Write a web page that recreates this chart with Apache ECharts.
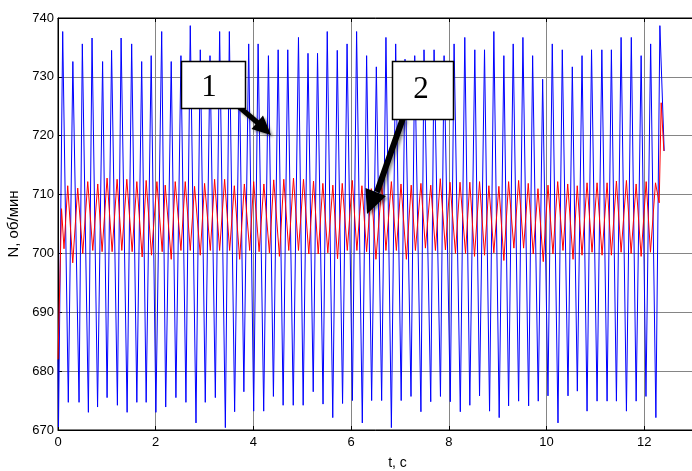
<!DOCTYPE html>
<html>
<head>
<meta charset="utf-8">
<script src="https://cdn.jsdelivr.net/npm/echarts@6/dist/echarts.min.js"></script>
<style>
  html, body { margin: 0; padding: 0; background: #fff; overflow: hidden; }
  #chart { width: 692px; height: 471px; }
</style>
</head>
<body>
<div id="chart"></div>
<script>
// Rotational speed N (об/мин) versus time t (с): curve 1 (blue) and curve 2 (red).
var blueT = [0, 0.01, 0.096, 0.211, 0.304, 0.431, 0.498, 0.622, 0.697, 0.810, 0.913, 1.005, 1.097, 1.216, 1.292, 1.415,
  1.508, 1.614, 1.713, 1.805, 1.908, 2.004, 2.123, 2.205, 2.318, 2.414, 2.517, 2.619, 2.708, 2.825, 2.913, 3.015,
  3.112, 3.221, 3.309, 3.426, 3.508, 3.616, 3.713, 3.805, 3.904, 4.006, 4.097, 4.211, 4.308, 4.410, 4.507, 4.609,
  4.704, 4.816, 4.923, 5.019, 5.118, 5.225, 5.313, 5.426, 5.512, 5.625, 5.717, 5.826, 5.918, 6.027, 6.113, 6.230,
  6.318, 6.421, 6.517, 6.626, 6.714, 6.825, 6.913, 7.026, 7.104, 7.227, 7.303, 7.430, 7.493, 7.631, 7.699, 7.830,
  7.904, 8.031, 8.109, 8.236, 8.328, 8.431, 8.533, 8.630, 8.732, 8.835, 8.923, 9.032, 9.128, 9.225, 9.319, 9.430,
  9.518, 9.635, 9.717, 9.832, 9.922, 10.031, 10.119, 10.236, 10.324, 10.441, 10.529, 10.632, 10.728, 10.831, 10.923,
  11.036, 11.134, 11.241, 11.329, 11.432, 11.528, 11.637, 11.737, 11.836, 11.938, 12.037, 12.133, 12.240, 12.322, 12.410];
var blueN = [682, 670.5, 737.7, 674.7, 732.6, 674.7, 735.6, 673.0, 736.6, 673.9, 732.6, 675.5, 734.5, 674.2, 736.6, 673.0,
  735.6, 674.7, 732.6, 674.7, 733.6, 673.0, 737.7, 673.9, 732.6, 675.5, 733.6, 674.7, 738.7, 671.2, 734.6, 674.7,
  733.6, 675.5, 737.7, 670.4, 737.7, 673.1, 731.5, 676.5, 735.6, 673.2, 735.6, 673.2, 733.6, 675.7, 734.6, 674.2,
  734.6, 674.2, 736.7, 674.2, 734.0, 676.5, 734.0, 674.4, 737.7, 672.1, 734.5, 674.5, 735.6, 675.0, 737.7, 671.2,
  733.6, 675.0, 731.7, 675.0, 736.7, 670.4, 735.6, 675.0, 733.0, 675.7, 733.6, 673.1, 734.6, 674.8, 734.6, 675.7,
  733.6, 674.8, 735.6, 673.1, 736.7, 674.2, 734.6, 675.8, 734.6, 673.2, 737.7, 672.1, 733.6, 674.1, 735.6, 674.9,
  736.7, 674.1, 733.6, 674.9, 729.6, 675.8, 735.6, 671.2, 734.6, 675.8, 731.7, 676.6, 733.6, 673.2, 734.6,
  674.9, 734.6, 674.9, 734.6, 674.9, 736.7, 673.2, 736.7, 674.9, 733.6, 675.7, 735.6, 672.1, 738.7, 717.4];

var redT = [0, 0.072, 0.123, 0.199, 0.302, 0.404, 0.507, 0.609, 0.712, 0.814, 0.903, 1.005, 1.108, 1.210, 1.307, 1.409,
  1.518, 1.614, 1.723, 1.805, 1.914, 2.025, 2.133, 2.195, 2.318, 2.400, 2.517, 2.605, 2.708, 2.796, 2.913, 3.001,
  3.118, 3.206, 3.309, 3.411, 3.514, 3.610, 3.719, 3.815, 3.924, 4.006, 4.117, 4.215, 4.328, 4.416, 4.533, 4.622,
  4.724, 4.821, 4.923, 5.026, 5.134, 5.231, 5.327, 5.422, 5.524, 5.627, 5.723, 5.819, 5.922, 6.025, 6.119, 6.222,
  6.318, 6.414, 6.509, 6.630, 6.714, 6.825, 6.927, 7.022, 7.132, 7.231, 7.317, 7.430, 7.522, 7.631, 7.727, 7.826,
  7.932, 8.025, 8.137, 8.230, 8.343, 8.431, 8.527, 8.630, 8.732, 8.821, 8.923, 9.026, 9.128, 9.225, 9.333, 9.430,
  9.532, 9.627, 9.729, 9.826, 9.934, 10.031, 10.133, 10.230, 10.338, 10.435, 10.544, 10.630, 10.728, 10.831, 10.933,
  11.036, 11.138, 11.241, 11.329, 11.432, 11.528, 11.637, 11.733, 11.836, 11.938, 12.041, 12.129, 12.232, 12.308,
  12.349, 12.404];
var redN = [682, 707.6, 700.8, 711.5, 698.4, 711.1, 700.0, 712.2, 700.5, 711.8, 700.3, 712.8, 700.3, 712.6, 700.5, 712.6,
  700.3, 712.2, 699.4, 712.4, 699.7, 712.2, 700.3, 711.6, 699.0, 712.2, 700.5, 712.2, 700.5, 711.4, 699.7, 711.9,
  700.5, 712.6, 700.5, 712.6, 700.5, 711.5, 699.0, 711.8, 700.5, 712.2, 700.3, 711.8, 700.1, 712.5, 699.5, 712.6,
  700.5, 712.8, 700.5, 712.6, 699.9, 712.3, 699.9, 711.9, 700.1, 711.6, 699.1, 711.9, 700.5, 712.4, 700.5, 711.5,
  700.3, 711.0, 699.0, 711.8, 700.5, 712.2, 700.5, 711.8, 699.0, 711.6, 700.5, 711.9, 700.9, 711.6, 700.5, 712.7,
  700.6, 712.1, 700.0, 712.1, 700.0, 712.1, 699.5, 712.2, 699.7, 711.5, 700.1, 711.4, 698.8, 712.2, 700.9, 712.4,
  700.9, 711.9, 699.9, 711.0, 698.6, 711.6, 699.9, 712.2, 700.5, 711.8, 699.0, 711.5, 699.7, 712.0, 700.2,
  712.0, 699.7, 712.0, 699.7, 712.3, 700.2, 712.4, 700.0, 711.8, 699.5, 712.2, 700.2, 712.0, 708.6,
  725.6, 717.4];

// Axis ranges and tick spacing
var tRange = [0, 13];
var tStep = 2;
var nRange = [670, 740];
var nStep = 10;

function pairs(xs, ys) {
  var out = [];
  for (var i = 0; i < xs.length; i++) out.push([xs[i], ys[i]]);
  return out;
}

var chart = echarts.init(document.getElementById('chart'), null, { renderer: 'canvas' });

var sansFamily = '"Liberation Sans", Arial, sans-serif';
var tickFont = { color: '#000', fontFamily: sansFamily, fontSize: 13 };
var serifFont = '31px "Liberation Serif", "Times New Roman", serif';
var arrowShadow = { shadowBlur: 3, shadowColor: 'rgba(0,0,0,0.45)', shadowOffsetX: 2, shadowOffsetY: 2 };

chart.setOption({
  animation: false,
  backgroundColor: '#fff',
  grid: {
    left: 58, top: 18, right: -1, bottom: 41, outerBoundsMode: 'none', containLabel: false,
    show: true, borderColor: '#000', borderWidth: 1, backgroundColor: 'transparent'
  },
  xAxis: [{
    type: 'value', min: tRange[0], max: tRange[1], interval: tStep,
    name: 't, c', nameLocation: 'middle', nameGap: 26,
    nameTextStyle: { color: '#000', fontFamily: sansFamily, fontSize: 14, padding: [0, 0, 0, 44] },
    axisLine: { show: true, onZero: false, lineStyle: { color: '#000', width: 1 } },
    axisTick: { show: true, inside: true, length: 4, lineStyle: { color: '#000' } },
    axisLabel: Object.assign({ margin: 6, showMaxLabel: false }, tickFont),
    splitLine: { show: true, lineStyle: { color: '#858585', width: 1 } }
  }, {
    type: 'value', position: 'top', min: tRange[0], max: tRange[1], interval: tStep,
    axisLine: { show: true, lineStyle: { color: '#000', width: 1 } },
    axisTick: { show: true, inside: true, length: 4, lineStyle: { color: '#000' } },
    axisLabel: { show: false },
    splitLine: { show: false }
  }],
  yAxis: {
    type: 'value', min: nRange[0], max: nRange[1], interval: nStep,
    name: 'N, об/мин', nameLocation: 'middle', nameGap: 28, nameRotate: 90,
    nameTextStyle: { color: '#000', fontFamily: sansFamily, fontSize: 15 },
    axisLine: { show: true, lineStyle: { color: '#000', width: 1 } },
    axisTick: { show: true, inside: true, length: 4, lineStyle: { color: '#000' } },
    axisLabel: Object.assign({ margin: 4 }, tickFont),
    splitLine: { show: true, lineStyle: { color: '#858585', width: 1 } }
  },
  series: [{
    name: '1', type: 'line', data: pairs(blueT, blueN), showSymbol: false, symbol: 'none',
    lineStyle: { color: '#0000ff', width: 1 }, z: 2
  }, {
    name: '2', type: 'line', data: pairs(redT, redN), showSymbol: false, symbol: 'none',
    lineStyle: { color: '#ff0000', width: 1 }, z: 3
  }],
  graphic: [
    // callout arrow for curve 1
    { type: 'line', z: 100, shape: { x1: 238, y1: 106, x2: 258, y2: 123 },
      style: Object.assign({ stroke: '#000', lineWidth: 5 }, arrowShadow) },
    { type: 'polygon', z: 100, shape: { points: [[271, 135], [251.5, 129], [263, 115.5]] },
      style: Object.assign({ fill: '#000' }, arrowShadow) },
    // callout arrow for curve 2
    { type: 'line', z: 100, shape: { x1: 403, y1: 118, x2: 377, y2: 192 },
      style: Object.assign({ stroke: '#000', lineWidth: 6 }, arrowShadow) },
    { type: 'polygon', z: 100, shape: { points: [[367, 214], [365.5, 188], [386, 196]] },
      style: Object.assign({ fill: '#000' }, arrowShadow) },
    // label boxes
    { type: 'rect', z: 101, shape: { x: 181.5, y: 61.5, width: 64, height: 47 },
      style: { fill: '#fff', stroke: '#000', lineWidth: 1.5 } },
    { type: 'text', z: 102, x: 209, y: 88, style: { text: '1', fill: '#000', font: serifFont, align: 'center', verticalAlign: 'middle' } },
    { type: 'rect', z: 101, shape: { x: 392.5, y: 61.5, width: 61, height: 58 },
      style: { fill: '#fff', stroke: '#000', lineWidth: 1.5 } },
    { type: 'text', z: 102, x: 421, y: 90, style: { text: '2', fill: '#000', font: serifFont, align: 'center', verticalAlign: 'middle' } }
  ]
});
</script>
</body>
</html>
